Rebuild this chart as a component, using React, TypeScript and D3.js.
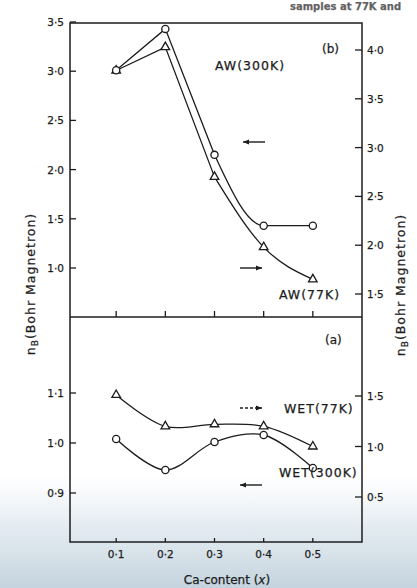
import React from 'react';
import * as d3 from 'd3';

// Ca-content values
const xs = [0.1, 0.2, 0.3, 0.4, 0.5];
const xTicks = ['0·1', '0·2', '0·3', '0·4', '0·5'];

// panel (b) - as-prepared samples
const aw300 = [3.01, 3.43, 2.15, 1.43, 1.43];   // left axis, circles
const aw77 = [3.79, 4.03, 2.7, 1.98, 1.65];     // right axis, triangles
const bLeftTicks = [1.0, 1.5, 2.0, 2.5, 3.0, 3.5];
const bRightTicks = [1.5, 2.0, 2.5, 3.0, 3.5, 4.0];

// panel (a) - wet samples
const wet300 = [1.008, 0.946, 1.002, 1.016, 0.95]; // left axis, circles
const wet77 = [1.51, 1.2, 1.22, 1.2, 1.0];          // right axis, triangles
const aLeftTicks = [0.9, 1.0, 1.1];
const aRightTicks = [0.5, 1.0, 1.5];

const fmt = (v: number) => v.toFixed(1).replace('.', '·');

const W = 417, H = 588;
const L = 70, R = 362, TOP = 23, MID = 317, BOT = 542;
const ink = '#1c1c1c';
const font = 'DejaVu Sans, sans-serif';

export default function App() {
  const x = d3.scaleLinear().domain([0, 0.6]).range([67, 362]);
  const bL = d3.scaleLinear().domain([1.0, 3.5]).range([268, 22]);
  const bR = d3.scaleLinear().domain([1.5, 4.0]).range([294, 50]);
  const aL = d3.scaleLinear().domain([0.9, 1.1]).range([493, 393]);
  const aR = d3.scaleLinear().domain([0.5, 1.5]).range([497, 396]);

  // straight lines up to 0.3, then a smooth bend
  const mixed = (vals: number[], y: d3.ScaleLinear<number, number>) => {
    const pts: [number, number][] = xs.map((v, i) => [x(v), y(vals[i])]);
    const lin = d3.line().curve(d3.curveLinear)(pts.slice(0, 3)) || '';
    const cur = d3.line().curve(d3.curveMonotoneX)(pts.slice(2)) || '';
    return lin + cur;
  };
  const smooth = (vals: number[], y: d3.ScaleLinear<number, number>) =>
    d3.line<number>().x((_, i) => x(xs[i])).y(v => y(v)).curve(d3.curveCatmullRom.alpha(0.5))(vals) || '';

  const circles = (vals: number[], y: d3.ScaleLinear<number, number>) =>
    vals.map((v, i) => <circle key={i} cx={x(xs[i])} cy={y(v)} r={3.6} fill="#fff" stroke={ink} strokeWidth={1.3} />);
  const tris = (vals: number[], y: d3.ScaleLinear<number, number>) => {
    const sym = d3.symbol().type(d3.symbolTriangle).size(32);
    return vals.map((v, i) => <path key={i} d={sym() || ''} transform={`translate(${x(xs[i])},${y(v)})`} fill="#fff" stroke={ink} strokeWidth={1.3} />);
  };

  const arrow = (x1: number, y: number, dir: number, dashed = false) => {
    const x2 = x1 + 22;
    const tip = dir > 0 ? x2 : x1;
    return (
      <g>
        <line x1={x1} x2={x2} y1={y} y2={y} stroke={ink} strokeWidth={1.4} strokeDasharray={dashed ? '3,2' : undefined} />
        <path d={`M${tip},${y} L${tip - dir * 6},${y - 2.5} L${tip - dir * 6},${y + 2.5} Z`} fill={ink} />
      </g>
    );
  };

  const txt = { fontFamily: font, fill: ink, stroke: ink, strokeWidth: 0.25 };
  const lab = { ...txt, letterSpacing: 1 };

  return (
    <svg width={W} height={H} style={{ position: 'absolute', left: 0, top: 0, background: '#fff' }}>
      <defs>
        <linearGradient id="scan" x1="0" y1="0" x2="0" y2="1">
          <stop offset="0" stopColor="#e8eef2" stopOpacity={0} />
          <stop offset="0.45" stopColor="#dde7ee" stopOpacity={0.8} />
          <stop offset="1" stopColor="#c4d3dd" stopOpacity={1} />
        </linearGradient>
      </defs>
      <rect x={0} y={475} width={W} height={113} fill="url(#scan)" />

      {/* cut-off caption at top */}
      <text x={290} y={10} fontSize={10} style={txt} fontWeight="bold" opacity={0.7}>samples at 77K and</text>

      {/* frame */}
      <g stroke={ink} strokeWidth={1.5} fill="none">
        <rect x={L} y={TOP} width={R - L} height={BOT - TOP} />
        <line x1={L} x2={R} y1={MID} y2={MID} />
      </g>

      {/* x ticks */}
      {xs.map((v, i) => (
        <g key={i}>
          <line x1={x(v)} x2={x(v)} y1={MID} y2={MID - 6} stroke={ink} strokeWidth={1.3} />
          <line x1={x(v)} x2={x(v)} y1={BOT} y2={BOT - 4} stroke={ink} strokeWidth={1.3} />
          <text x={x(v)} y={BOT + 16} fontSize={10.5} textAnchor="middle" style={txt}>{xTicks[i]}</text>
        </g>
      ))}
      <text x={227} y={584} fontSize={12} textAnchor="middle" style={txt}>Ca-content (<tspan fontStyle="italic">x</tspan>)</text>

      {/* panel b axes */}
      {bLeftTicks.map(v => (
        <g key={'bl' + v}>
          <line x1={L} x2={L + 6} y1={bL(v)} y2={bL(v)} stroke={ink} strokeWidth={1.3} />
          <text x={L - 6} y={bL(v) + 4} fontSize={10.5} textAnchor="end" style={txt}>{fmt(v)}</text>
        </g>
      ))}
      {bRightTicks.map(v => (
        <g key={'br' + v}>
          <line x1={R} x2={R - 7} y1={bR(v)} y2={bR(v)} stroke={ink} strokeWidth={1.3} />
          <text x={R + 5} y={bR(v) + 4} fontSize={10.5} style={txt}>{fmt(v)}</text>
        </g>
      ))}

      {/* panel a axes */}
      {aLeftTicks.map(v => (
        <g key={'al' + v}>
          <line x1={L} x2={L + 6} y1={aL(v)} y2={aL(v)} stroke={ink} strokeWidth={1.3} />
          <text x={L - 6} y={aL(v) + 4} fontSize={10.5} textAnchor="end" style={txt}>{fmt(v)}</text>
        </g>
      ))}
      {aRightTicks.map(v => (
        <g key={'ar' + v}>
          <line x1={R} x2={R - 7} y1={aR(v)} y2={aR(v)} stroke={ink} strokeWidth={1.3} />
          <text x={R + 5} y={aR(v) + 4} fontSize={10.5} style={txt}>{fmt(v)}</text>
        </g>
      ))}

      {/* axis titles */}
      <text transform="translate(35,284) rotate(-90)" fontSize={12.5} textAnchor="middle" style={lab}>
        n<tspan fontSize={9} dy={3}>B</tspan><tspan dy={-3}>(Bohr Magnetron)</tspan>
      </text>
      <text transform="translate(405,285) rotate(-90)" fontSize={12.5} textAnchor="middle" style={lab}>
        n<tspan fontSize={9} dy={3}>B</tspan><tspan dy={-3}>(Bohr Magnetron)</tspan>
      </text>

      {/* panel b series */}
      <path d={mixed(aw77, bR)} fill="none" stroke={ink} strokeWidth={1.3} />
      <path d={mixed(aw300, bL)} fill="none" stroke={ink} strokeWidth={1.3} />
      {tris(aw77, bR)}
      {circles(aw300, bL)}

      <text x={322} y={53} fontSize={12} style={txt}>(b)</text>
      <text x={215} y={70} fontSize={12.5} style={lab}>AW(300K)</text>
      {arrow(243, 142, -1)}
      {arrow(240, 268, 1)}
      <text x={279} y={299} fontSize={12.5} style={lab}>AW(77K)</text>

      {/* panel a series */}
      <path d={smooth(wet77, aR)} fill="none" stroke={ink} strokeWidth={1.3} />
      <path d={smooth(wet300, aL)} fill="none" stroke={ink} strokeWidth={1.3} />
      {tris(wet77, aR)}
      {circles(wet300, aL)}

      <text x={325} y={344} fontSize={12} style={txt}>(a)</text>
      {arrow(240, 408, 1, true)}
      <text x={284} y={413} fontSize={12.5} style={lab}>WET(77K)</text>
      {arrow(240, 485, -1)}
      <text x={279} y={477} fontSize={12.5} style={lab}>WET(300K)</text>
    </svg>
  );
}
